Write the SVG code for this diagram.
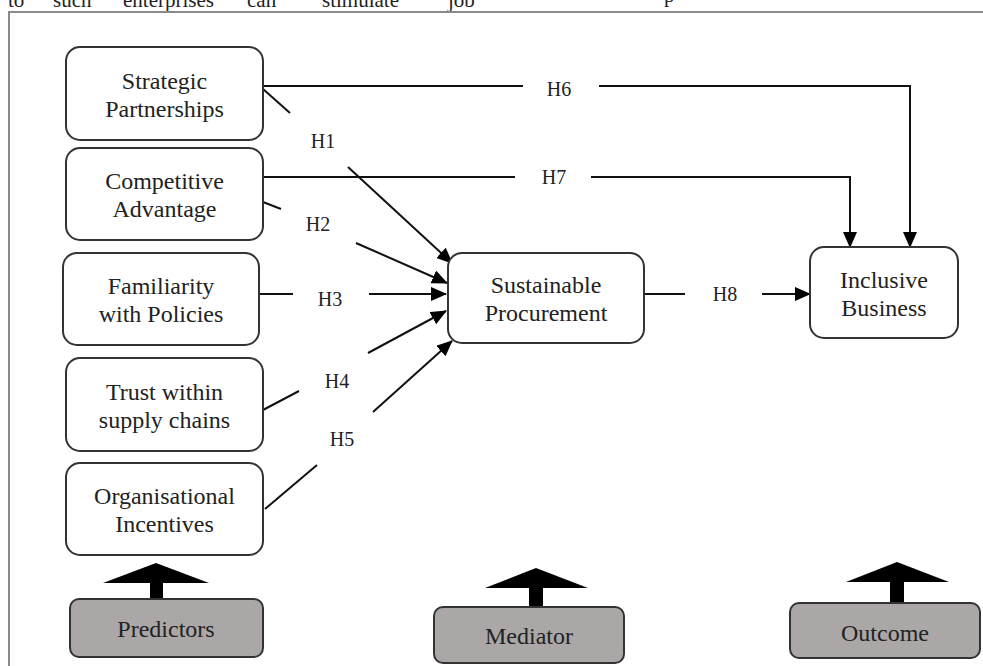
<svg xmlns="http://www.w3.org/2000/svg" width="983" height="666" viewBox="0 0 983 666">
<style>
  .box { fill: #ffffff; stroke: #333333; stroke-width: 2; }
  .cat { fill: #aba7a7; stroke: #333333; stroke-width: 2; }
  .t { font-family: "Liberation Serif", "Times New Roman", serif; font-size: 24px; fill: #222222; text-anchor: middle; }
  .h { font-family: "Liberation Serif", "Times New Roman", serif; font-size: 20px; fill: #222222; text-anchor: middle; }
  .pg { font-family: "Liberation Serif", "Times New Roman", serif; font-size: 21px; fill: #222222; }
  .ln { fill: none; stroke: #111111; stroke-width: 2; }
  .frame { stroke: #8a8a8a; stroke-width: 2; fill: none; }
  .big { fill: #000000; }
</style>
<defs>
  <marker id="ah" viewBox="0 0 16 14" refX="15" refY="7" markerWidth="16" markerHeight="14" markerUnits="userSpaceOnUse" orient="auto">
    <path d="M0,0 L16,7 L0,14 z" fill="#000000"/>
  </marker>
</defs>
<rect x="0" y="0" width="983" height="666" fill="#ffffff"/>
<text class="pg" y="6.7"><tspan x="8">to</tspan><tspan x="53">such</tspan><tspan x="123">enterprises</tspan><tspan x="247">can</tspan><tspan x="322">stimulate</tspan><tspan x="448">job</tspan></text>
<text class="pg" x="664" y="1.5">p</text>
<path class="frame" d="M9,666 L9,12 L983,12"/>

<g id="connectors">
  <line class="ln" x1="263" y1="86" x2="523" y2="86"/>
  <path class="ln" d="M599,86 L910,86 L910,247" marker-end="url(#ah)"/>
  <line class="ln" x1="263" y1="177" x2="515" y2="177"/>
  <path class="ln" d="M591,177 L850,177 L850,247" marker-end="url(#ah)"/>
  <line class="ln" x1="644" y1="294" x2="685" y2="294"/>
  <line class="ln" x1="762" y1="294" x2="810" y2="294" marker-end="url(#ah)"/>
  <line class="ln" x1="263" y1="89" x2="290" y2="113"/>
  <line class="ln" x1="348" y1="167" x2="452" y2="263" marker-end="url(#ah)"/>
  <line class="ln" x1="263" y1="202" x2="281" y2="209"/>
  <line class="ln" x1="356" y1="243" x2="447" y2="283" marker-end="url(#ah)"/>
  <line class="ln" x1="259" y1="294" x2="293" y2="294"/>
  <line class="ln" x1="369" y1="294" x2="446" y2="294" marker-end="url(#ah)"/>
  <line class="ln" x1="263" y1="410" x2="299" y2="391"/>
  <line class="ln" x1="368" y1="353" x2="446" y2="311" marker-end="url(#ah)"/>
  <line class="ln" x1="265" y1="509" x2="317" y2="465"/>
  <line class="ln" x1="373" y1="412" x2="452" y2="341" marker-end="url(#ah)"/>
  <text class="h" x="323" y="148">H1</text>
  <text class="h" x="318" y="231">H2</text>
  <text class="h" x="330" y="306">H3</text>
  <text class="h" x="337" y="388">H4</text>
  <text class="h" x="342" y="446">H5</text>
  <text class="h" x="559" y="96">H6</text>
  <text class="h" x="554" y="184">H7</text>
  <text class="h" x="725" y="301">H8</text>
  <polygon class="big" points="103,583 209,583 156,563"/>
  <rect class="big" x="150" y="582" width="13" height="18"/>
  <polygon class="big" points="485,588 588,588 536,568"/>
  <rect class="big" x="529" y="587" width="14" height="21"/>
  <polygon class="big" points="846,582 949,582 897,562"/>
  <rect class="big" x="890" y="581" width="14" height="23"/>
</g>

<g id="strategic-partnerships">
  <rect class="box" x="66" y="47" width="197" height="93" rx="14"/>
  <text class="t" x="164.5" y="89">Strategic</text>
  <text class="t" x="164.5" y="117">Partnerships</text>
</g>
<g id="competitive-advantage">
  <rect class="box" x="66" y="148" width="197" height="92" rx="14"/>
  <text class="t" x="164.5" y="189">Competitive</text>
  <text class="t" x="164.5" y="217">Advantage</text>
</g>
<g id="familiarity-policies">
  <rect class="box" x="63" y="253" width="196" height="92" rx="14"/>
  <text class="t" x="161" y="294">Familiarity</text>
  <text class="t" x="161" y="322">with Policies</text>
</g>
<g id="trust-supply-chains">
  <rect class="box" x="66" y="358" width="197" height="93" rx="14"/>
  <text class="t" x="164.5" y="400">Trust within</text>
  <text class="t" x="164.5" y="428">supply chains</text>
</g>
<g id="organisational-incentives">
  <rect class="box" x="66" y="463" width="197" height="92" rx="14"/>
  <text class="t" x="164.5" y="504">Organisational</text>
  <text class="t" x="164.5" y="532">Incentives</text>
</g>
<g id="sustainable-procurement">
  <rect class="box" x="448" y="253" width="196" height="90" rx="14"/>
  <text class="t" x="546" y="293">Sustainable</text>
  <text class="t" x="546" y="321">Procurement</text>
</g>
<g id="inclusive-business">
  <rect class="box" x="810" y="247" width="148" height="91" rx="14"/>
  <text class="t" x="884" y="288">Inclusive</text>
  <text class="t" x="884" y="316">Business</text>
</g>
<g id="predictors">
  <rect class="cat" x="70" y="599" width="193" height="58" rx="9"/>
  <text class="t" x="166" y="637">Predictors</text>
</g>
<g id="mediator">
  <rect class="cat" x="434" y="607" width="190" height="56" rx="9"/>
  <text class="t" x="529" y="644">Mediator</text>
</g>
<g id="outcome">
  <rect class="cat" x="790" y="603" width="190" height="55" rx="9"/>
  <text class="t" x="885" y="641">Outcome</text>
</g>
</svg>
